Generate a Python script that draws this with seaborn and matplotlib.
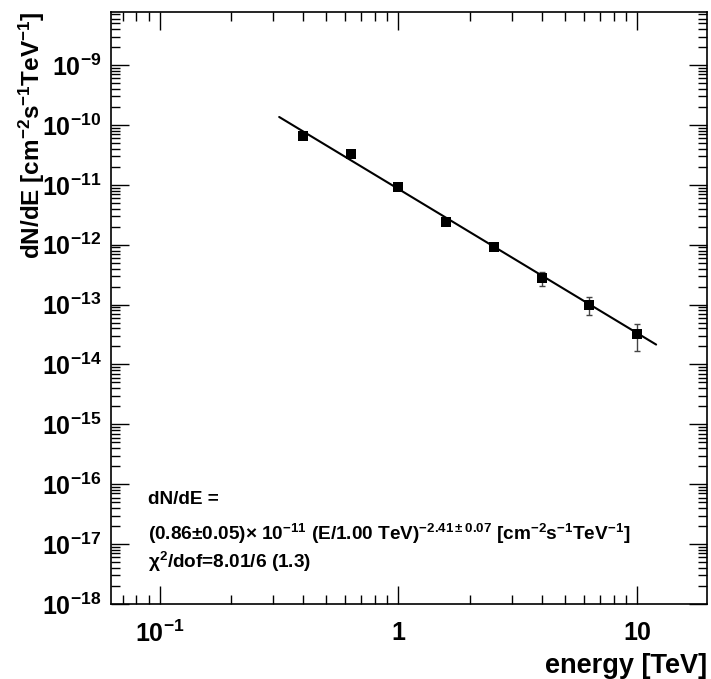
import numpy as np
import pandas as pd
import seaborn as sns
import matplotlib
matplotlib.use("Agg")
import matplotlib.pyplot as plt
from matplotlib.ticker import LogLocator, FuncFormatter, NullFormatter

# spectrum points
energy = [0.398, 0.631, 1.0, 1.585, 2.512, 3.981, 6.310, 10.0]
flux = [6.6e-11, 3.23e-11, 9.1e-12, 2.39e-12, 9.27e-13, 2.75e-13, 1.0e-13, 3.19e-14]
flux_err = [3.0e-12, 1.2e-12, 3.0e-13, 1.0e-13, 5.0e-14, 7.0e-14, 3.2e-14, 1.5e-14]

# power-law fit line endpoints
fit_energy = [0.317, 12.0]
fit_flux = [1.36e-10, 2.15e-14]

sns.set_style("ticks")
plt.rcParams["font.family"] = ["Liberation Sans", "DejaVu Sans"]
plt.rcParams["font.weight"] = "bold"
plt.rcParams["text.color"] = "black"
plt.rcParams["axes.labelcolor"] = "black"
plt.rcParams["xtick.color"] = "black"
plt.rcParams["ytick.color"] = "black"
plt.rcParams["mathtext.fontset"] = "custom"
plt.rcParams["mathtext.rm"] = "Liberation Sans:bold"
plt.rcParams["mathtext.bf"] = "Liberation Sans:bold"
plt.rcParams["mathtext.it"] = "Liberation Sans:bold:italic"
plt.rcParams["mathtext.sf"] = "Liberation Sans:bold"
plt.rcParams["mathtext.default"] = "rm"

fig = plt.figure(figsize=(7.11, 6.79), dpi=100)
ax = fig.add_axes([0.156, 0.1105, 0.8384, 0.8718])

pts = pd.DataFrame({"E": energy, "F": flux, "err": flux_err})
fit = pd.DataFrame({"E": fit_energy, "F": fit_flux})

sns.lineplot(data=fit, x="E", y="F", ax=ax, color="black", lw=1.5)
ax.errorbar(pts["E"], pts["F"], yerr=pts["err"], fmt="none",
            ecolor="#444444", elinewidth=1.0, capsize=2.5, capthick=1.0)
sns.scatterplot(data=pts, x="E", y="F", ax=ax, marker="s", s=60,
                color="black", edgecolor="black", linewidth=0, zorder=3)

ax.set_xscale("log")
ax.set_yscale("log")
ax.set_xlim(0.0626, 19.6)
ax.set_ylim(1e-18, 7.7e-9)

ax.xaxis.set_major_locator(LogLocator(base=10, numticks=20))
ax.xaxis.set_minor_locator(LogLocator(base=10, subs=np.arange(2, 10), numticks=100))
ax.yaxis.set_major_locator(LogLocator(base=10, numticks=20))
ax.yaxis.set_minor_locator(LogLocator(base=10, subs=np.arange(2, 10), numticks=100))


def xfmt(v, pos):
    if abs(v - 1) < 1e-9:
        return "1"
    if abs(v - 10) < 1e-9:
        return "10"
    return r"$10^{%d}$" % int(round(np.log10(v)))


def yfmt(v, pos):
    return r"$10^{%d}$" % int(round(np.log10(v)))


ax.xaxis.set_major_formatter(FuncFormatter(xfmt))
ax.yaxis.set_major_formatter(FuncFormatter(yfmt))
ax.xaxis.set_minor_formatter(NullFormatter())
ax.yaxis.set_minor_formatter(NullFormatter())

ax.tick_params(which="both", direction="in", top=True, right=True,
               labelsize=18, width=1.0, color="black", labelcolor="black")
ax.tick_params(which="major", length=13)
ax.tick_params(which="minor", length=6.5)
ax.tick_params(axis="x", pad=12)
ax.tick_params(axis="y", pad=7)

for sp in ax.spines.values():
    sp.set_color("black")
    sp.set_linewidth(1.2)

ax.set_xlabel("energy [TeV]", fontsize=19.5, fontweight="bold", loc="right", labelpad=4)
ax.set_ylabel(r"dN/dE [cm$^{-2}$s$^{-1}$TeV$^{-1}$]", fontsize=17.5,
              fontweight="bold", loc="top", labelpad=-4)

ax.text(0.062, 0.177, "dN/dE =", transform=ax.transAxes, fontsize=13.7,
        fontweight="bold", va="center", ha="left")
ax.text(0.062, 0.118,
        r"(0.86$\pm$0.05)$\times$ 10$^{-11}$ (E/1.00 TeV)$^{-2.41\pm0.07}$ [cm$^{-2}$s$^{-1}$TeV$^{-1}$]",
        transform=ax.transAxes, fontsize=13.7, fontweight="bold", va="center", ha="left")
ax.text(0.062, 0.071, r"$\chi^{2}$/dof=8.01/6 (1.3)", transform=ax.transAxes,
        fontsize=13.7, fontweight="bold", va="center", ha="left")

fig.savefig("out.png", dpi=100)
